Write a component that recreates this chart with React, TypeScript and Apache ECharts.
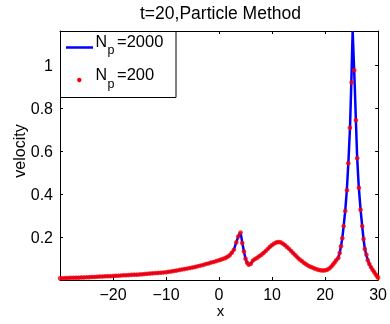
import React, { useEffect, useRef } from "react";
import * as echarts from "echarts";

// N_p = 2000 (solid blue line)
const blueX = [
  -30, -25, -20, -15, -10, -7.5, -5, -2.5, 0, 1, 1.8, 2.4, 2.8, 3.25, 3.65, 3.95, 4.1, 4.4, 4.7, 5.0,
  5.3, 5.65, 6.0, 6.4, 7.0, 8.0, 9.0, 10.0, 10.8, 11.3, 12.0, 13.0, 14.0, 15.0, 16.0, 17.0, 18.0, 19.0,
  19.7, 20.4, 21.0, 21.6, 22.1, 22.5, 22.75, 23.0, 23.25, 23.5, 23.8, 24.1, 24.4, 24.7, 24.95, 25.2,
  25.45, 25.6, 25.8, 26.05, 26.35, 26.7, 27.0, 27.25, 27.5, 27.8, 28.1, 28.4, 28.75, 29.2, 29.6, 30,
];
const blueY = [
  0.008, 0.013, 0.019, 0.026, 0.036, 0.047, 0.058, 0.074, 0.092, 0.101, 0.11, 0.127, 0.141, 0.175, 0.204,
  0.22, 0.214, 0.172, 0.132, 0.099, 0.079, 0.07, 0.076, 0.091, 0.101, 0.118, 0.14, 0.163, 0.175, 0.177,
  0.17, 0.15, 0.125, 0.1, 0.08, 0.064, 0.054, 0.046, 0.044, 0.048, 0.058, 0.076, 0.092, 0.105, 0.126,
  0.157, 0.195, 0.251, 0.322, 0.418, 0.55, 0.71, 0.92, 1.16, 1.0, 0.9, 0.75, 0.57, 0.435, 0.327, 0.251,
  0.191, 0.145, 0.115, 0.09, 0.071, 0.056, 0.04, 0.025, 0.012,
];

// N_p = 200 (red dots)
const redX = [
  -30, -29.5, -29, -28.5, -28, -27.5, -27, -26.5, -26, -25.5, -25, -24.5, -24, -23.5, -23, -22.5, -22,
  -21.5, -21, -20.5, -20, -19.5, -19, -18.5, -18, -17.5, -17, -16.5, -16, -15.5, -15, -14.5, -14, -13.5,
  -13, -12.5, -12, -11.5, -11, -10.5, -10, -9.5, -9, -8.5, -8, -7.5, -7, -6.5, -6, -5.5, -5, -4.5, -4,
  -3.5, -3, -2.5, -2, -1.5, -1, -0.5, 0, 0.4, 0.8, 1.2, 1.6, 2.0, 2.4, 2.8, 3.25, 3.63, 4.06, 4.37, 4.69,
  5.0, 5.3, 5.6, 6.0, 6.4, 6.8, 7.2, 7.6, 8.0, 8.4, 8.8, 9.2, 9.6, 10.0, 10.4, 10.8, 11.2, 11.6, 12.0,
  12.4, 12.8, 13.2, 13.6, 14.0, 14.4, 14.8, 15.2, 15.6, 16.0, 16.4, 16.8, 17.2, 17.6, 18.0, 18.4, 18.8,
  19.2, 19.6, 20.0, 20.4, 20.8, 21.2, 21.5, 21.8, 22.1, 22.5, 22.75, 23.0, 23.25, 23.5, 23.81, 24.13,
  24.38, 24.69, 25.0, 25.19, 25.5, 25.81, 26.06, 26.38, 26.69, 27.0, 27.25, 27.5, 27.8, 28.05, 28.35,
  28.65, 28.95, 29.25, 29.55, 29.8, 30.0,
];
const redY = [
  0.008, 0.008, 0.009, 0.009, 0.01, 0.01, 0.011, 0.011, 0.012, 0.012, 0.013, 0.013, 0.014, 0.014, 0.015,
  0.016, 0.016, 0.017, 0.018, 0.018, 0.019, 0.02, 0.02, 0.021, 0.022, 0.022, 0.023, 0.024, 0.025, 0.025,
  0.026, 0.027, 0.028, 0.029, 0.03, 0.031, 0.032, 0.033, 0.034, 0.035, 0.036, 0.038, 0.04, 0.042, 0.044,
  0.047, 0.049, 0.051, 0.053, 0.056, 0.058, 0.061, 0.064, 0.067, 0.07, 0.074, 0.077, 0.081, 0.084, 0.088,
  0.092, 0.095, 0.099, 0.103, 0.108, 0.115, 0.127, 0.141, 0.175, 0.203, 0.221, 0.172, 0.133, 0.099,
  0.08, 0.071, 0.076, 0.091, 0.098, 0.104, 0.111, 0.118, 0.126, 0.135, 0.145, 0.155, 0.163, 0.17, 0.175,
  0.177, 0.176, 0.17, 0.163, 0.154, 0.145, 0.135, 0.125, 0.115, 0.105, 0.096, 0.088, 0.08, 0.073, 0.067,
  0.062, 0.058, 0.054, 0.05, 0.047, 0.045, 0.044, 0.045, 0.048, 0.054, 0.063, 0.072, 0.082, 0.092, 0.103,
  0.126, 0.157, 0.195, 0.251, 0.322, 0.418, 0.544, 0.709, 0.92, 1.162, 0.977, 0.744, 0.567, 0.43, 0.327,
  0.251, 0.191, 0.144, 0.118, 0.092, 0.075, 0.06, 0.048, 0.037, 0.026, 0.017, 0.011,
];

const titleText = "t=20,Particle Method";
const xLabel = "x";
const yLabel = "velocity";
const legendLabels = ["2000", "200"];

const FONT = "'Liberation Sans', Arial, Helvetica, sans-serif";

export default function App() {
  const ref = useRef<HTMLDivElement>(null);
  useEffect(() => {
    if (!ref.current) return;
    const chart = echarts.init(ref.current, null, { renderer: "svg" });
    const axisLine = { show: true, onZero: false, lineStyle: { color: "#000", width: 1 } };
    const axisTick = { show: true, inside: true, length: 3, lineStyle: { color: "#000", width: 1 } };
    const xFmt = (v: number) => {
      if (Math.abs(v + 30) < 1e-6) return "";
      return v < 0 ? "\u2212" + Math.abs(v) : String(v);
    };
    const yFmt = (v: number) => {
      const k = v / 0.2;
      if (v < 0.1 || Math.abs(k - Math.round(k)) > 1e-6) return "";
      return String(Math.round(v * 10) / 10);
    };
    const txt = (
      text: string,
      x: number,
      y: number,
      size: number,
      align: string,
      extra: any = {}
    ) => ({
      type: "text",
      x,
      y,
      z: 100,
      ...extra,
      style: {
        text,
        fill: "#000",
        fontSize: size,
        fontFamily: FONT,
        lineHeight: Math.round(size * 0.8),
        align,
        textAlign: align,
        verticalAlign: "middle",
        textVerticalAlign: "middle",
      },
    });
    chart.setOption({
      animation: false,
      grid: { left: 60, top: 31, width: 321, height: 249, containLabel: false },
      xAxis: [
        {
          type: "value",
          min: -30,
          max: 30,
          interval: 10,
          position: "bottom",
          axisLine,
          axisTick,
          splitLine: { show: false },
          axisLabel: { formatter: xFmt, color: "#000", fontSize: 16, lineHeight: 14, fontFamily: FONT, margin: 7 },
        },
        {
          type: "value",
          min: -30,
          max: 30,
          interval: 10,
          position: "top",
          axisLine,
          axisTick,
          splitLine: { show: false },
          axisLabel: { show: false },
        },
      ],
      yAxis: [
        {
          type: "value",
          min: 0,
          max: 1.16,
          interval: 0.2,
          position: "left",
          axisLine,
          axisTick,
          splitLine: { show: false },
          axisLabel: { formatter: yFmt, color: "#000", fontSize: 16, fontFamily: FONT, margin: 7, showMaxLabel: false },
        },
        {
          type: "value",
          min: 0,
          max: 1.16,
          interval: 0.2,
          position: "right",
          axisLine,
          axisTick,
          splitLine: { show: false },
          axisLabel: { show: false },
        },
      ],
      series: [
        {
          type: "line",
          name: "Np=2000",
          xAxisIndex: 0,
          yAxisIndex: 0,
          data: blueX.map((x, i) => [x, blueY[i]]),
          showSymbol: false,
          symbol: "none",
          lineStyle: { color: "#0000ff", width: 2.5 },
          z: 2,
        },
        {
          type: "scatter",
          name: "Np=200",
          xAxisIndex: 0,
          yAxisIndex: 0,
          data: redX.map((x, i) => [x, redY[i]]),
          symbolSize: 4.6,
          itemStyle: { color: "#ff0000" },
          z: 3,
        },
      ],
      graphic: [
        txt(titleText, 220.5, 13, 17.5, "center"),
        txt(xLabel, 220.5, 310, 15, "center"),
        txt(yLabel, 19, 151, 16, "center", { rotation: Math.PI / 2 }),
        {
          type: "rect",
          z: 90,
          shape: { x: 60.5, y: 31.5, width: 115.5, height: 66 },
          style: { fill: "#fff", stroke: "#000", lineWidth: 1 },
        },
        {
          type: "line",
          z: 100,
          shape: { x1: 66, y1: 47.5, x2: 93, y2: 47.5 },
          style: { stroke: "#0000ff", lineWidth: 2.5 },
        },
        {
          type: "circle",
          z: 100,
          shape: { cx: 79.3, cy: 80, r: 2.2 },
          style: { fill: "#ff0000" },
        },
        txt("N", 95.5, 41.1, 16, "left"),
        txt("p", 107.5, 50.3, 12.5, "left"),
        txt("=" + legendLabels[0], 117, 41.1, 16.5, "left"),
        txt("N", 95.5, 74.4, 16, "left"),
        txt("p", 107.5, 83.6, 12.5, "left"),
        txt("=" + legendLabels[1], 117, 74.4, 16.5, "left"),
      ],
    });
    return () => chart.dispose();
  }, []);
  return <div ref={ref} style={{ position: "fixed", left: 0, top: 0, width: 390, height: 324 }} />;
}
